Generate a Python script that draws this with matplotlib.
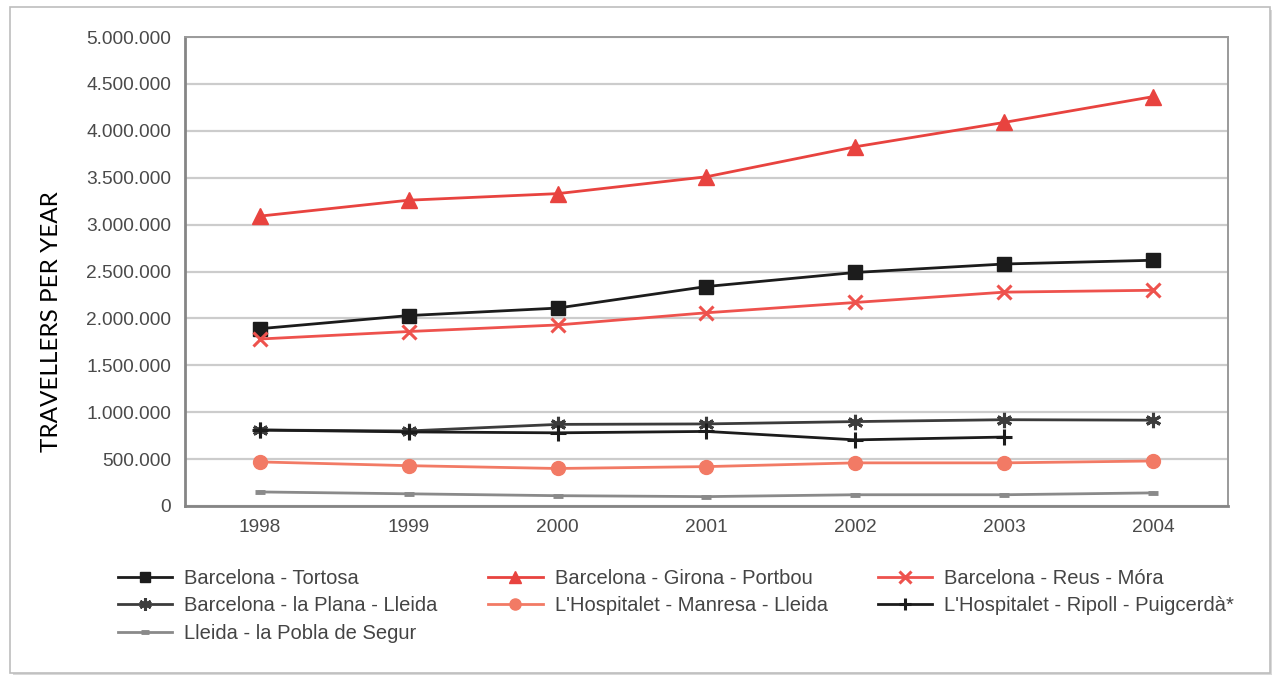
import numpy as np
import matplotlib
matplotlib.use("Agg")
import matplotlib.pyplot as plt
from matplotlib.patches import Rectangle
from matplotlib.ticker import FuncFormatter, MultipleLocator

# Annual travellers per regional rail line
years = ["1998", "1999", "2000", "2001", "2002", "2003", "2004"]
bcn_tortosa = [1890000, 2030000, 2110000, 2340000, 2490000, 2580000, 2620000]
bcn_girona_portbou = [3090000, 3260000, 3330000, 3510000, 3830000, 4090000, 4365000]
bcn_reus_mora = [1780000, 1860000, 1930000, 2060000, 2170000, 2280000, 2300000]
bcn_plana_lleida = [810000, 800000, 870000, 875000, 900000, 920000, 915000]
hosp_manresa_lleida = [470000, 430000, 400000, 420000, 460000, 460000, 480000]
hosp_ripoll_puigcerda = [810000, 790000, 780000, 795000, 705000, 735000, np.nan]
lleida_pobla = [150000, 130000, 110000, 100000, 120000, 120000, 140000]

series_labels = [
    "Barcelona - Tortosa",
    "Barcelona - Girona - Portbou",
    "Barcelona - Reus - Móra",
    "Barcelona - la Plana - Lleida",
    "L'Hospitalet - Manresa - Lleida",
    "L'Hospitalet - Ripoll - Puigcerdà*",
    "Lleida - la Pobla de Segur",
]
y_label = "TRAVELLERS PER YEAR"

plt.rcParams["font.family"] = ["Liberation Sans", "DejaVu Sans"]

fig = plt.figure(figsize=(12.72, 6.75), dpi=100)
W, H = 1272, 675

# Outer frame with a soft drop shadow, kept behind the axes
fig.patches.append(Rectangle((13 / W, 1 - 676 / H), 1260 / W, 666 / H,
                             transform=fig.transFigure, facecolor="#d9d9d9",
                             edgecolor="none", zorder=-3))
fig.patches.append(Rectangle((10 / W, 1 - 673 / H), 1260 / W, 666 / H,
                             transform=fig.transFigure, facecolor="white",
                             edgecolor="#bdbdbd", lw=1.2, zorder=-2))

ax = fig.add_axes([185 / W, 1 - 506 / H, (1228 - 185) / W, (506 - 37) / H])
ax.set_facecolor("white")

x = np.arange(len(years))

styles = [
    dict(data=bcn_tortosa, color="#1c1c1c", marker="s", ms=9.5, mew=1),
    dict(data=bcn_girona_portbou, color="#e8433f", marker="^", ms=11, mew=1),
    dict(data=bcn_reus_mora, color="#ee524d", marker="x", ms=10, mew=2.2),
    dict(data=bcn_plana_lleida, color="#3c3c3c", marker=(6, 2, 0), ms=11, mew=2.2),
    dict(data=hosp_manresa_lleida, color="#f27a65", marker="o", ms=10, mew=1),
    dict(data=hosp_ripoll_puigcerda, color="#1c1c1c", marker="+", ms=11, mew=2.2),
    dict(data=lleida_pobla, color="#8a8a8a", marker="_", ms=7, mew=3.5),
]

handles = []
for lab, st in zip(series_labels, styles):
    h, = ax.plot(x, st["data"], color=st["color"], lw=2.0, marker=st["marker"],
                 ms=st["ms"], mew=st["mew"], mfc=st["color"], mec=st["color"],
                 label=lab, zorder=3)
    handles.append(h)

ax.set_xlim(-0.5, len(years) - 0.5)
ax.set_ylim(0, 5000000)
ax.yaxis.set_major_locator(MultipleLocator(500000))
ax.yaxis.set_major_formatter(FuncFormatter(lambda v, p: f"{int(v):,}".replace(",", ".")))
ax.set_xticks(x)
ax.set_xticklabels(years)

ax.grid(axis="y", color="#cccccc", lw=1.6)
ax.set_axisbelow(True)
for side in ["left", "bottom"]:
    ax.spines[side].set_color("#858585")
    ax.spines[side].set_linewidth(2.0)
for side in ["top", "right"]:
    ax.spines[side].set_color("#9a9a9a")
    ax.spines[side].set_linewidth(1.4)

ax.tick_params(axis="both", length=0, labelsize=13.8, colors="#4a4a4a")
ax.tick_params(axis="y", pad=10)
ax.tick_params(axis="x", pad=9)

fig.text(52 / W, 1 - 322 / H, y_label, rotation=90, ha="center", va="center",
         fontsize=17.5, color="black", family=["Lato", "DejaVu Sans"])

# Legend laid out row by row: matplotlib fills columns first
order = [0, 3, 6, 1, 4, 2, 5]
leg = fig.legend([handles[i] for i in order], [series_labels[i] for i in order],
                 ncol=3, loc="upper left", bbox_to_anchor=(118 / W, 1 - 569 / H),
                 bbox_transform=fig.transFigure, frameon=False, fontsize=14.5,
                 handlelength=2.7, handletextpad=0.6, columnspacing=2.5,
                 labelspacing=0.42, borderpad=0, borderaxespad=0, markerscale=0.8)
for t in leg.get_texts():
    t.set_color("#444444")

fig.savefig("out.png", dpi=100)
